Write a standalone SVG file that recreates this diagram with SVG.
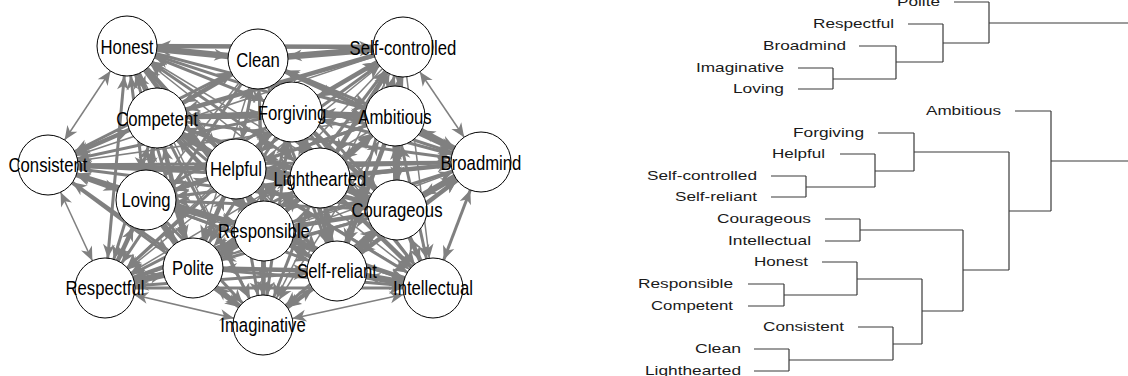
<svg xmlns="http://www.w3.org/2000/svg" width="1128" height="376" viewBox="0 0 1128 376">
<style>
.ed line{stroke:#808080;fill:none;marker-end:url(#ah)}
.ed .d{marker-start:url(#ah)}
.t1{stroke-width:1.5}
.t2{stroke-width:3}
.t3{stroke-width:4.5}
.t4{stroke-width:6.5}
.nd circle{fill:#fff;stroke:#000;stroke-width:1}
.nl text{font-family:"Liberation Sans",Arial,sans-serif;font-size:20.5px;fill:#000}
.dl text{font-family:"Liberation Sans",Arial,sans-serif;font-size:13px;fill:#1a1a1a}
.tree path{fill:none;stroke:#3a3a3a;stroke-width:1.2}
</style>
<defs>
<marker id="ah" markerUnits="userSpaceOnUse" orient="auto-start-reverse" refX="44" refY="0" markerWidth="60" markerHeight="20" overflow="visible">
<path d="M0,-6 L14,0 L0,6 L4,0 Z" fill="#808080"/>
</marker>
</defs>
<rect width="1128" height="376" fill="#fff"/>
<g id="edges" class="ed">
<line x1="127" y1="46" x2="258" y2="59" class="t4 d"/>
<line x1="127" y1="46" x2="403" y2="47" class="t3 d"/>
<line x1="127" y1="46" x2="157" y2="118" class="t3 d"/>
<line x1="127" y1="46" x2="292" y2="112" class="t2 d"/>
<line x1="127" y1="46" x2="395" y2="116" class="t2"/>
<line x1="127" y1="46" x2="48" y2="165" class="t1 d"/>
<line x1="127" y1="46" x2="481" y2="162" class="t2 d"/>
<line x1="127" y1="46" x2="236" y2="169" class="t3 d"/>
<line x1="127" y1="46" x2="320" y2="178" class="t2"/>
<line x1="127" y1="46" x2="146" y2="200" class="t2 d"/>
<line x1="127" y1="46" x2="397" y2="210" class="t1 d"/>
<line x1="127" y1="46" x2="264" y2="231" class="t3"/>
<line x1="127" y1="46" x2="193" y2="268" class="t2 d"/>
<line x1="127" y1="46" x2="337" y2="271" class="t1"/>
<line x1="127" y1="46" x2="105" y2="288" class="t2 d"/>
<line x1="127" y1="46" x2="433" y2="288" class="t1 d"/>
<line x1="127" y1="46" x2="263" y2="325" class="t1"/>
<line x1="258" y1="59" x2="403" y2="47" class="t4 d"/>
<line x1="258" y1="59" x2="157" y2="118" class="t3 d"/>
<line x1="258" y1="59" x2="292" y2="112" class="t3"/>
<line x1="258" y1="59" x2="395" y2="116" class="t2 d"/>
<line x1="258" y1="59" x2="48" y2="165" class="t2 d"/>
<line x1="258" y1="59" x2="481" y2="162" class="t3 d"/>
<line x1="258" y1="59" x2="236" y2="169" class="t2 d"/>
<line x1="258" y1="59" x2="320" y2="178" class="t3 d"/>
<line x1="258" y1="59" x2="146" y2="200" class="t1"/>
<line x1="258" y1="59" x2="397" y2="210" class="t2 d"/>
<line x1="258" y1="59" x2="264" y2="231" class="t2"/>
<line x1="258" y1="59" x2="193" y2="268" class="t1 d"/>
<line x1="258" y1="59" x2="337" y2="271" class="t2 d"/>
<line x1="258" y1="59" x2="105" y2="288" class="t2"/>
<line x1="258" y1="59" x2="433" y2="288" class="t1 d"/>
<line x1="258" y1="59" x2="263" y2="325" class="t1 d"/>
<line x1="403" y1="47" x2="157" y2="118" class="t3"/>
<line x1="403" y1="47" x2="292" y2="112" class="t3 d"/>
<line x1="403" y1="47" x2="395" y2="116" class="t2 d"/>
<line x1="403" y1="47" x2="48" y2="165" class="t1"/>
<line x1="403" y1="47" x2="481" y2="162" class="t1 d"/>
<line x1="403" y1="47" x2="236" y2="169" class="t2"/>
<line x1="403" y1="47" x2="320" y2="178" class="t3 d"/>
<line x1="403" y1="47" x2="146" y2="200" class="t1 d"/>
<line x1="403" y1="47" x2="397" y2="210" class="t2"/>
<line x1="403" y1="47" x2="264" y2="231" class="t2 d"/>
<line x1="403" y1="47" x2="193" y2="268" class="t1"/>
<line x1="403" y1="47" x2="337" y2="271" class="t2 d"/>
<line x1="403" y1="47" x2="105" y2="288" class="t1 d"/>
<line x1="403" y1="47" x2="433" y2="288" class="t1"/>
<line x1="403" y1="47" x2="263" y2="325" class="t1 d"/>
<line x1="157" y1="118" x2="292" y2="112" class="t3 d"/>
<line x1="157" y1="118" x2="395" y2="116" class="t2 d"/>
<line x1="157" y1="118" x2="48" y2="165" class="t3 d"/>
<line x1="157" y1="118" x2="481" y2="162" class="t2"/>
<line x1="157" y1="118" x2="236" y2="169" class="t4 d"/>
<line x1="157" y1="118" x2="320" y2="178" class="t2 d"/>
<line x1="157" y1="118" x2="146" y2="200" class="t3 d"/>
<line x1="157" y1="118" x2="397" y2="210" class="t2"/>
<line x1="157" y1="118" x2="264" y2="231" class="t3 d"/>
<line x1="157" y1="118" x2="193" y2="268" class="t3 d"/>
<line x1="157" y1="118" x2="337" y2="271" class="t2"/>
<line x1="157" y1="118" x2="105" y2="288" class="t2 d"/>
<line x1="157" y1="118" x2="433" y2="288" class="t1 d"/>
<line x1="157" y1="118" x2="263" y2="325" class="t2"/>
<line x1="292" y1="112" x2="395" y2="116" class="t3 d"/>
<line x1="292" y1="112" x2="48" y2="165" class="t2"/>
<line x1="292" y1="112" x2="481" y2="162" class="t2 d"/>
<line x1="292" y1="112" x2="236" y2="169" class="t3 d"/>
<line x1="292" y1="112" x2="320" y2="178" class="t4 d"/>
<line x1="292" y1="112" x2="146" y2="200" class="t2 d"/>
<line x1="292" y1="112" x2="397" y2="210" class="t3"/>
<line x1="292" y1="112" x2="264" y2="231" class="t2 d"/>
<line x1="292" y1="112" x2="193" y2="268" class="t2"/>
<line x1="292" y1="112" x2="337" y2="271" class="t3 d"/>
<line x1="292" y1="112" x2="105" y2="288" class="t1 d"/>
<line x1="292" y1="112" x2="433" y2="288" class="t2"/>
<line x1="292" y1="112" x2="263" y2="325" class="t2 d"/>
<line x1="395" y1="116" x2="48" y2="165" class="t1 d"/>
<line x1="395" y1="116" x2="481" y2="162" class="t3 d"/>
<line x1="395" y1="116" x2="236" y2="169" class="t2"/>
<line x1="395" y1="116" x2="320" y2="178" class="t3 d"/>
<line x1="395" y1="116" x2="146" y2="200" class="t2"/>
<line x1="395" y1="116" x2="397" y2="210" class="t4 d"/>
<line x1="395" y1="116" x2="264" y2="231" class="t2 d"/>
<line x1="395" y1="116" x2="193" y2="268" class="t1 d"/>
<line x1="395" y1="116" x2="337" y2="271" class="t3"/>
<line x1="395" y1="116" x2="105" y2="288" class="t1"/>
<line x1="395" y1="116" x2="433" y2="288" class="t2 d"/>
<line x1="395" y1="116" x2="263" y2="325" class="t1 d"/>
<line x1="48" y1="165" x2="481" y2="162" class="t2 d"/>
<line x1="48" y1="165" x2="236" y2="169" class="t3"/>
<line x1="48" y1="165" x2="320" y2="178" class="t2 d"/>
<line x1="48" y1="165" x2="146" y2="200" class="t3 d"/>
<line x1="48" y1="165" x2="397" y2="210" class="t2"/>
<line x1="48" y1="165" x2="264" y2="231" class="t2 d"/>
<line x1="48" y1="165" x2="193" y2="268" class="t2 d"/>
<line x1="48" y1="165" x2="337" y2="271" class="t1"/>
<line x1="48" y1="165" x2="105" y2="288" class="t1 d"/>
<line x1="48" y1="165" x2="433" y2="288" class="t1 d"/>
<line x1="48" y1="165" x2="263" y2="325" class="t2"/>
<line x1="481" y1="162" x2="236" y2="169" class="t2 d"/>
<line x1="481" y1="162" x2="320" y2="178" class="t3 d"/>
<line x1="481" y1="162" x2="146" y2="200" class="t1"/>
<line x1="481" y1="162" x2="397" y2="210" class="t4 d"/>
<line x1="481" y1="162" x2="264" y2="231" class="t2"/>
<line x1="481" y1="162" x2="193" y2="268" class="t1 d"/>
<line x1="481" y1="162" x2="337" y2="271" class="t3 d"/>
<line x1="481" y1="162" x2="105" y2="288" class="t1"/>
<line x1="481" y1="162" x2="433" y2="288" class="t2 d"/>
<line x1="481" y1="162" x2="263" y2="325" class="t1 d"/>
<line x1="236" y1="169" x2="320" y2="178" class="t4 d"/>
<line x1="236" y1="169" x2="146" y2="200" class="t3 d"/>
<line x1="236" y1="169" x2="397" y2="210" class="t3"/>
<line x1="236" y1="169" x2="264" y2="231" class="t4 d"/>
<line x1="236" y1="169" x2="193" y2="268" class="t3 d"/>
<line x1="236" y1="169" x2="337" y2="271" class="t2 d"/>
<line x1="236" y1="169" x2="105" y2="288" class="t2"/>
<line x1="236" y1="169" x2="433" y2="288" class="t2 d"/>
<line x1="236" y1="169" x2="263" y2="325" class="t2 d"/>
<line x1="320" y1="178" x2="146" y2="200" class="t2 d"/>
<line x1="320" y1="178" x2="397" y2="210" class="t4 d"/>
<line x1="320" y1="178" x2="264" y2="231" class="t3 d"/>
<line x1="320" y1="178" x2="193" y2="268" class="t2"/>
<line x1="320" y1="178" x2="337" y2="271" class="t3 d"/>
<line x1="320" y1="178" x2="105" y2="288" class="t2 d"/>
<line x1="320" y1="178" x2="433" y2="288" class="t3"/>
<line x1="320" y1="178" x2="263" y2="325" class="t2 d"/>
<line x1="146" y1="200" x2="397" y2="210" class="t2 d"/>
<line x1="146" y1="200" x2="264" y2="231" class="t3 d"/>
<line x1="146" y1="200" x2="193" y2="268" class="t4 d"/>
<line x1="146" y1="200" x2="337" y2="271" class="t2"/>
<line x1="146" y1="200" x2="105" y2="288" class="t3 d"/>
<line x1="146" y1="200" x2="433" y2="288" class="t1 d"/>
<line x1="146" y1="200" x2="263" y2="325" class="t2"/>
<line x1="397" y1="210" x2="264" y2="231" class="t3 d"/>
<line x1="397" y1="210" x2="193" y2="268" class="t2 d"/>
<line x1="397" y1="210" x2="337" y2="271" class="t4 d"/>
<line x1="397" y1="210" x2="105" y2="288" class="t1"/>
<line x1="397" y1="210" x2="433" y2="288" class="t3 d"/>
<line x1="397" y1="210" x2="263" y2="325" class="t2 d"/>
<line x1="264" y1="231" x2="193" y2="268" class="t4 d"/>
<line x1="264" y1="231" x2="337" y2="271" class="t3 d"/>
<line x1="264" y1="231" x2="105" y2="288" class="t3"/>
<line x1="264" y1="231" x2="433" y2="288" class="t3 d"/>
<line x1="264" y1="231" x2="263" y2="325" class="t3 d"/>
<line x1="193" y1="268" x2="337" y2="271" class="t3 d"/>
<line x1="193" y1="268" x2="105" y2="288" class="t4 d"/>
<line x1="193" y1="268" x2="433" y2="288" class="t2"/>
<line x1="193" y1="268" x2="263" y2="325" class="t3 d"/>
<line x1="337" y1="271" x2="105" y2="288" class="t2 d"/>
<line x1="337" y1="271" x2="433" y2="288" class="t4 d"/>
<line x1="337" y1="271" x2="263" y2="325" class="t3 d"/>
<line x1="105" y1="288" x2="433" y2="288" class="t2"/>
<line x1="105" y1="288" x2="263" y2="325" class="t1 d"/>
<line x1="433" y1="288" x2="263" y2="325" class="t1 d"/>
</g>
<g class="nd">
<g id="n-honest"><circle cx="127" cy="46" r="30"/></g>
<g id="n-clean"><circle cx="258" cy="59" r="30"/></g>
<g id="n-selfcontrolled"><circle cx="403" cy="47" r="30"/></g>
<g id="n-competent"><circle cx="157" cy="118" r="30"/></g>
<g id="n-forgiving"><circle cx="292" cy="112" r="30"/></g>
<g id="n-ambitious"><circle cx="395" cy="116" r="30"/></g>
<g id="n-consistent"><circle cx="48" cy="165" r="30"/></g>
<g id="n-broadmind"><circle cx="481" cy="162" r="30"/></g>
<g id="n-helpful"><circle cx="236" cy="169" r="30"/></g>
<g id="n-lighthearted"><circle cx="320" cy="178" r="30"/></g>
<g id="n-loving"><circle cx="146" cy="200" r="30"/></g>
<g id="n-courageous"><circle cx="397" cy="210" r="30"/></g>
<g id="n-responsible"><circle cx="264" cy="231" r="30"/></g>
<g id="n-polite"><circle cx="193" cy="268" r="30"/></g>
<g id="n-selfreliant"><circle cx="337" cy="271" r="30"/></g>
<g id="n-respectful"><circle cx="105" cy="288" r="30"/></g>
<g id="n-intellectual"><circle cx="433" cy="288" r="30"/></g>
<g id="n-imaginative"><circle cx="263" cy="325" r="30"/></g>
</g>
<g class="nl">
<text x="100.5" y="54" textLength="53" lengthAdjust="spacingAndGlyphs">Honest</text>
<text x="236.2" y="67" textLength="43.6" lengthAdjust="spacingAndGlyphs">Clean</text>
<text x="349.6" y="55" textLength="106.8" lengthAdjust="spacingAndGlyphs">Self-controlled</text>
<text x="116.2" y="126" textLength="81.7" lengthAdjust="spacingAndGlyphs">Competent</text>
<text x="257.7" y="120" textLength="68.7" lengthAdjust="spacingAndGlyphs">Forgiving</text>
<text x="358.3" y="124" textLength="73.4" lengthAdjust="spacingAndGlyphs">Ambitious</text>
<text x="8.5" y="172" textLength="79" lengthAdjust="spacingAndGlyphs">Consistent</text>
<text x="440.6" y="170" textLength="80.8" lengthAdjust="spacingAndGlyphs">Broadmind</text>
<text x="210" y="176" textLength="52" lengthAdjust="spacingAndGlyphs">Helpful</text>
<text x="273.5" y="186" textLength="92.9" lengthAdjust="spacingAndGlyphs">Lighthearted</text>
<text x="121.4" y="207" textLength="49.2" lengthAdjust="spacingAndGlyphs">Loving</text>
<text x="351.5" y="217" textLength="91" lengthAdjust="spacingAndGlyphs">Courageous</text>
<text x="218" y="238" textLength="91.9" lengthAdjust="spacingAndGlyphs">Responsible</text>
<text x="172.1" y="275" textLength="41.8" lengthAdjust="spacingAndGlyphs">Polite</text>
<text x="297" y="278" textLength="79.9" lengthAdjust="spacingAndGlyphs">Self-reliant</text>
<text x="65.5" y="295" textLength="79" lengthAdjust="spacingAndGlyphs">Respectful</text>
<text x="393" y="295" textLength="79.9" lengthAdjust="spacingAndGlyphs">Intellectual</text>
<text x="220.3" y="332" textLength="85.4" lengthAdjust="spacingAndGlyphs">Imaginative</text>
</g>
<g id="dendrogram-links" class="tree">
<path d="M954,2H989 M908,24H943 M859,46H896 M798,68H833 M798,89H833 M833,68V89 M833,79H896 M896,46V79 M896,62H943 M943,24V62 M943,43H989 M989,2V43 M989,23H1128"/>
<path d="M1015,111H1051 M878,133H914 M840,154H875 M771,176H806 M771,197H806 M806,176V197 M806,187H875 M875,154V187 M875,171H914 M914,133V171 M914,152H1009"/>
<path d="M825,219H860 M825,241H860 M860,219V241 M860,230H963 M822,262H857 M748,284H784 M748,306H784 M784,284V306 M784,295H857 M857,262V295 M857,279H922 M858,327H893 M754,349H789 M754,371H789 M789,349V371 M789,360H893 M893,327V360 M893,344H922 M922,279V344 M922,311H963 M963,230V311 M963,270H1009 M1009,152V270 M1009,211H1051 M1051,111V211 M1051,161H1128"/>
</g>
<g id="dendrogram-labels" class="dl">
<text x="897" y="6" textLength="43" lengthAdjust="spacingAndGlyphs">Polite</text>
<text x="813" y="28" textLength="81" lengthAdjust="spacingAndGlyphs">Respectful</text>
<text x="763" y="50" textLength="83" lengthAdjust="spacingAndGlyphs">Broadmind</text>
<text x="696" y="72" textLength="88" lengthAdjust="spacingAndGlyphs">Imaginative</text>
<text x="733" y="93" textLength="51" lengthAdjust="spacingAndGlyphs">Loving</text>
<text x="926" y="115" textLength="75" lengthAdjust="spacingAndGlyphs">Ambitious</text>
<text x="793" y="137" textLength="71" lengthAdjust="spacingAndGlyphs">Forgiving</text>
<text x="772" y="158" textLength="53" lengthAdjust="spacingAndGlyphs">Helpful</text>
<text x="647" y="180" textLength="110" lengthAdjust="spacingAndGlyphs">Self-controlled</text>
<text x="675" y="201" textLength="82" lengthAdjust="spacingAndGlyphs">Self-reliant</text>
<text x="717" y="223" textLength="94" lengthAdjust="spacingAndGlyphs">Courageous</text>
<text x="728" y="245" textLength="83" lengthAdjust="spacingAndGlyphs">Intellectual</text>
<text x="754" y="266" textLength="54" lengthAdjust="spacingAndGlyphs">Honest</text>
<text x="638" y="288" textLength="95" lengthAdjust="spacingAndGlyphs">Responsible</text>
<text x="651" y="310" textLength="82" lengthAdjust="spacingAndGlyphs">Competent</text>
<text x="763" y="331" textLength="81" lengthAdjust="spacingAndGlyphs">Consistent</text>
<text x="695" y="353" textLength="46" lengthAdjust="spacingAndGlyphs">Clean</text>
<text x="645" y="375" textLength="96" lengthAdjust="spacingAndGlyphs">Lighthearted</text>
</g>
</svg>
